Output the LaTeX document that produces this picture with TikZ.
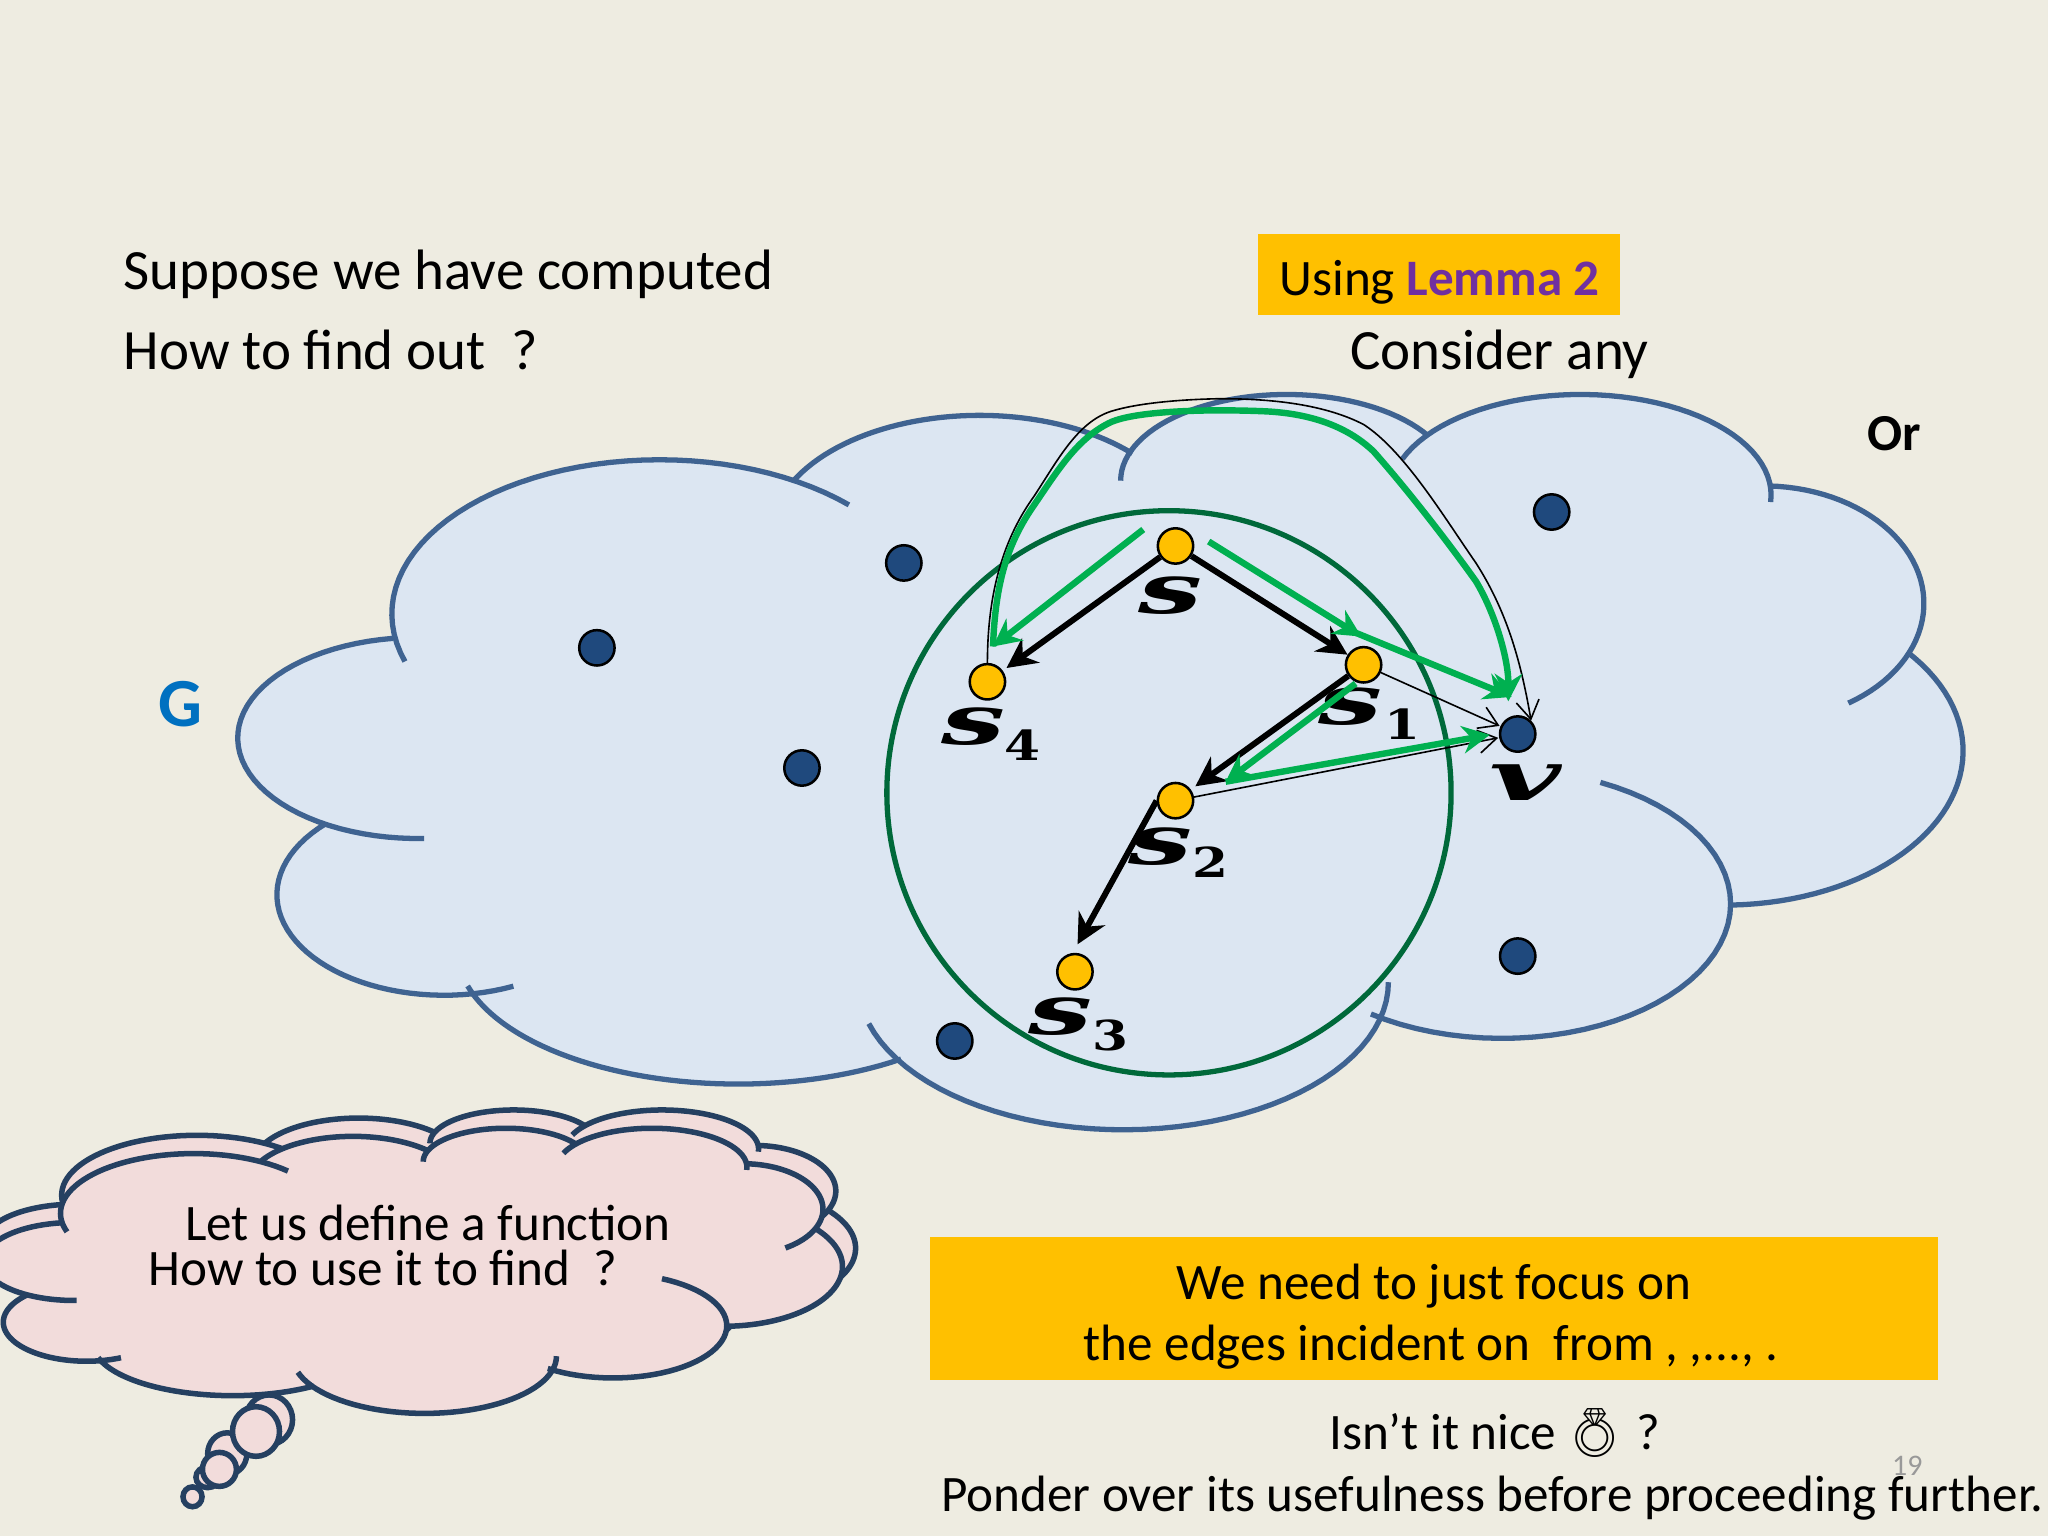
\documentclass[tikz,border=0pt]{standalone}
\usepackage{fontspec}
\usepackage{graphicx}
\setmainfont{Carlito}
\newfontfamily\lblf{DejaVu Serif}
\newfontfamily\emojif{Noto Emoji}
\usetikzlibrary{arrows.meta}
\definecolor{bgc}{HTML}{EEECE1}
\definecolor{cloudf}{HTML}{DCE6F2}
\definecolor{cloudl}{HTML}{3F6391}
\definecolor{dotc}{HTML}{1F497D}
\definecolor{yel}{HTML}{FFC000}
\definecolor{grn}{HTML}{00B050}
\definecolor{dgrn}{HTML}{00693A}
\definecolor{pinkf}{HTML}{F2DCDB}
\definecolor{pinkl}{HTML}{254061}
\definecolor{lemma}{HTML}{7030A0}
\definecolor{gblue}{HTML}{0070C0}
\newcommand\fsz[1]{\fontsize{#1}{#1}\selectfont}
\tikzset{
 txt/.style={anchor=base west,inner sep=0pt,font=\fsz{12.4}},
 small txt/.style={anchor=base west,inner sep=0pt,font=\fsz{11.13}},
 blue dot/.style={circle,draw=black,line width=.55pt,fill=dotc,minimum size=7.7pt,inner sep=0pt},
 yel dot/.style={circle,draw=black,line width=.55pt,fill=yel,minimum size=7.7pt,inner sep=0pt},
 lab/.style={inner sep=0pt,anchor=base west,font=\fontsize{15}{15}\lblf\bfseries\itshape},
 sub/.style={inner sep=0pt,anchor=base west,font=\fontsize{9}{9}\lblf\bfseries},
 blk/.style={draw=black,line width=1.3pt,-{Stealth[length=6.5pt,width=6.5pt]}},
 thin arr/.style={draw=black,line width=.35pt,-{Straight Barb[length=4pt,width=5pt]}},
 grnarr/.style={draw=grn,line width=1.4pt,-{Stealth[length=6pt,width=6pt]}},
}
\newcommand\cloudlobes{%
\lobe{505}{470}{205}{118}{162}{315}%
\lobe{750}{410}{160}{92}{207}{317}%
\lobe{985}{368}{127}{66}{180}{329}%
\lobe{1210}{379}{146}{77}{201}{364}%
\lobe{1350}{462}{123}{90}{272}{418}%
\lobe{1320}{575}{183}{118}{-40}{88}%
\lobe{1150}{692}{175}{103}{-64.5}{125}%
\lobe{860}{752}{203}{113}{0}{163.7}%
\lobe{565}{727}{215}{103}{54.5}{164.3}%
\lobe{340}{685}{128}{77}{65.5}{225}%
\lobe{320}{565}{138}{77}{88}{262}%
}
\newcommand\cloudcore{(310,506)--(650,387)--(607,368)--(867,347)--(858,368)--(1094,334)--(1074,351)--(1356,384)--(1354,372)--(1415,538)--(1460,499)--(1326,693)--(1225,599)--(1050,776)--(1063,752)--(665,784)--(690,811)--(358,755)--(393,755)--(250,631)--(325,642)--(301,489)--cycle}
\newcommand\lobefill[1]{\def\lobe##1##2##3##4##5##6{\path[fill=#1,draw=#1,line width=.3pt] plot[domain=##5:##6,samples=45] ({##1+##3*cos(\x)},{##2+##4*sin(\x)});}\cloudlobes\path[fill=#1,draw=#1,line width=.6pt] \cloudcore;}
\newcommand\lobestroke[2]{\def\lobe##1##2##3##4##5##6{\draw[#1,line width=#2,line cap=butt] plot[domain=##5:##6,samples=45] ({##1+##3*cos(\x)},{##2+##4*sin(\x)});}\cloudlobes}
\begin{document}
\begin{tikzpicture}[x=0.01cm,y=-0.01cm]
\clip (0,0) rectangle (1568,1176);
\fill[bgc] (0,0) rectangle (1568,1176);
% blue cloud
\lobefill{cloudf}
\lobestroke{cloudl}{1.15pt}
% green circle
\draw[dgrn,line width=1.15pt] (895,607) circle [x radius=216,y radius=216];
% dots
\node[blue dot] (b1) at (692,431) {};
\node[blue dot] (b2) at (457,496) {};
\node[blue dot] (b3) at (614,588) {};
\node[blue dot] (b4) at (1188,392) {};
\node[blue dot] (b5) at (1162,732) {};
\node[blue dot] (b6) at (731,797) {};
\node[blue dot] (v) at (1162,562) {};
\node[yel dot] (s) at (900,418) {};
\node[yel dot] (s1) at (1044,509) {};
\node[yel dot] (s2) at (900,613) {};
\node[yel dot] (s3) at (823,744) {};
\node[yel dot] (s4) at (756,522) {};
% labels
\node[lab] (ls) at (871,470) {\scalebox{1.65}[1]{s}};
\node[lab] (ls1) at (1009,555) {\scalebox{1.65}[1]{s}};
\node[sub] (n1) at (1059,566) {\scalebox{1.25}[1]{1}};
\node[lab] (ls2) at (863,662) {\scalebox{1.65}[1]{s}};
\node[sub] (n2) at (912,672) {\scalebox{1.25}[1]{2}};
\node[lab] (ls3) at (787,792) {\scalebox{1.65}[1]{s}};
\node[sub] (n3) at (836,804) {\scalebox{1.25}[1]{3}};
\node[lab] (ls4) at (720,570) {\scalebox{1.65}[1]{s}};
\node[sub] (n4) at (768,582) {\scalebox{1.25}[1]{4}};
\node[lab] (lv) at (1140,613) {\scalebox{1.8}[1]{v}};
% black arrows
\coordinate (s3t) at (825,723);
\draw[blk] (s) -- (s1);
\draw[blk,shorten >=1pt] (s) -- (s4);
\draw[blk,shorten >=1.2pt] (s1) -- (s2);
\draw[blk] (s2.west) -- (s3t);
% thin arrows
\draw[thin arr,shorten >=.2pt] (s1) -- (v);
\draw[thin arr,shorten >=.2pt] (s2) -- (v);
\draw[thin arr] (s4.north) .. controls (756,450) and (770,410) .. (791.8,379.8)
  .. controls (810,352) and (825,323) .. (851,314.8)
  .. controls (870,309) and (900,306) .. (932,305.3)
  .. controls (975,305) and (1015,310) .. (1044,325)
  .. controls (1075,345) and (1105,395) .. (1130,431)
  .. controls (1155,470) and (1165,510) .. (v.north east);
% green arrows
\coordinate (ga1) at (875.3,405.4); \coordinate (ga2) at (760.3,495);
\coordinate (gb1) at (925.4,414.6); \coordinate (gb2) at (1042.3,487.4);
\coordinate (gc1) at (1036.8,484); \coordinate (gc2) at (1157.4,533.6);
\coordinate (gd1) at (1037.9,523.3); \coordinate (gd2) at (938.4,598.5);
\coordinate (ge2) at (1140.7,562.6); \coordinate (gf2) at (1154.8,537);
\draw[grnarr] (ga1) -- (ga2);
\draw[grnarr] (gb1) -- (gb2);
\draw[grnarr] (gc1) -- (gc2);
\draw[grnarr] (gd1) -- (gd2);
\draw[grnarr] (gd2) -- (ge2);
\draw[grnarr] (ga2) .. controls (762,445) and (772,415) .. (791.8,386.6)
  .. controls (810,360) and (825,335) .. (851,323)
  .. controls (870,315) and (920,313) .. (966,314.8)
  .. controls (1000,316) and (1030,325) .. (1051.6,345.6)
  .. controls (1075,372) and (1105,410) .. (1130,445)
  .. controls (1145,470) and (1155,505) .. (gf2);
% top text
\node[txt] (t1) at (94,222) {Suppose we have computed};
\node[txt] (t2) at (94,283) {How to find out\ \ ?};
\node[fill=yel,minimum width=2.77cm,minimum height=.62cm,inner sep=0pt] (lb) at (1101.5,210) {};
\node[small txt] (t3) at (979,226) {Using \textcolor{lemma}{\textbf{Lemma 2}}};
\node[txt] (t4) at (1033,283) {Consider any};
\node[txt,font=\fsz{11.3}\bfseries] (t5) at (1429,345) {Or};
\node[txt,font=\fsz{15}\bfseries,text=gblue] (t6) at (121,556) {G};
% thought bubble
\foreach \cx/\cy/\rx/\ry in {206/1087/18/19,174/1113/15/16,159/1131/9/8,196/1096/18/19,168/1125/13/13,147.4/1146/7.3/7.6}
  \path[fill=pinkf,draw=pinkl,line width=1.2pt] (\cx,\cy) circle [x radius=\rx,y radius=\ry];
\begin{scope}
\clip (-30,830) -- (700,830) -- (700,1040) -- (120,1040) -- (120,975) -- (-30,975) -- cycle;
\begin{scope}[shift={(-104.4,732.7)},x=0.00505cm,y=-0.003883cm]
\lobefill{pinkf}
\lobestroke{pinkl}{1.2pt}
\end{scope}
\end{scope}
\begin{scope}[shift={(-103,746.7)},x=0.00497cm,y=-0.003883cm]
\lobefill{pinkf}
\lobestroke{pinkl}{1.2pt}
\end{scope}
\node[small txt] (p1) at (141,950) {Let us define a function};
\node[small txt] (p2) at (113,984) {How to use it to find\ \ ?};
% bottom
\fill[yel] (712,946.8) rectangle (1483.8,1056.5);
\node[small txt,anchor=base] (q1) at (1098,995) {We need to just focus on};
\node[small txt] (q2) at (829,1042) {the edges incident on\ \ from , ,..., .};
\node[small txt] (q3) at (1017,1110) {Isn’t it nice};
\node[inner sep=0pt,font=\fontsize{10.5}{10.5}\emojif] (ring) at (1221,1097) {💍};
\node[small txt] (q4) at (1252,1110) {?};
\node[small txt,font=\fsz{6.5},text=gray!80] (pg) at (1448,1130) {19};
\node[small txt] (q5) at (720,1157) {Ponder over its usefulness before proceeding further.};
\end{tikzpicture}
\end{document}
